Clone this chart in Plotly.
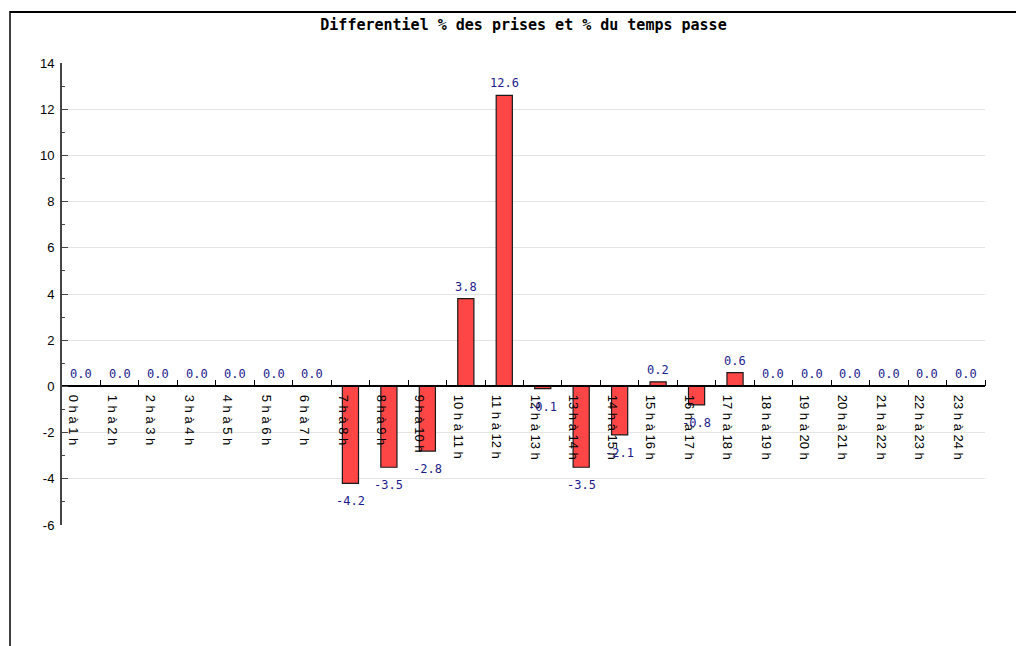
import plotly.graph_objects as go

categories = ["0 h à 1 h", "1 h à 2 h", "2 h à 3 h", "3 h à 4 h", "4 h à 5 h", "5 h à 6 h",
              "6 h à 7 h", "7 h à 8 h", "8 h à 9 h", "9 h à 10 h", "10 h à 11 h", "11 h à 12 h",
              "12 h à 13 h", "13 h à 14 h", "14 h à 15 h", "15 h à 16 h", "16 h à 17 h", "17 h à 18 h",
              "18 h à 19 h", "19 h à 20 h", "20 h à 21 h", "21 h à 22 h", "22 h à 23 h", "23 h à 24 h"]
values = [0.0, 0.0, 0.0, 0.0, 0.0, 0.0, 0.0, -4.2, -3.5, -2.8, 3.8, 12.6,
          -0.1, -3.5, -2.1, 0.2, -0.8, 0.6, 0.0, 0.0, 0.0, 0.0, 0.0, 0.0]
y_tickvals = [-6, -4, -2, 0, 2, 4, 6, 8, 10, 12, 14]
y_ticktext = ["-6", "-4", "-2", "0", "2", "4", "6", "8", "10", "12", "14"]
title_text = "Differentiel % des prises et % du temps passe"

idx = list(range(len(categories)))

# plot area in figure pixels (page has 8px body margin)
L, T, W, H = 54, 55, 923, 462

fig = go.Figure()
fig.add_trace(go.Bar(
    x=idx, y=values, width=0.42,
    marker=dict(color="#ff4646", line=dict(color="#1a1a1a", width=1.2)),
    hoverinfo="skip", showlegend=False,
))

annotations = []
for i, v in zip(idx, values):
    if v >= 0:
        annotations.append(dict(x=i, y=v, xref="x", yref="y", text=f"{v:.1f}", showarrow=False,
                                yanchor="bottom", yshift=3,
                                font=dict(family="DejaVu Sans Mono", size=12, color="#1c1c8c")))
    else:
        annotations.append(dict(x=i, y=v, xref="x", yref="y", text=f"{v:.1f}", showarrow=False,
                                yanchor="top", yshift=-9,
                                font=dict(family="DejaVu Sans Mono", size=12, color="#1c1c8c")))


def px_x(p):
    return (p - L) / W


def px_y(p):
    return (T + H - p) / H


fig.update_layout(
    width=1024, height=646,
    margin=dict(l=L, r=1024 - L - W, t=T, b=646 - T - H, pad=0),
    paper_bgcolor="white", plot_bgcolor="white",
    title=dict(text="<b>" + title_text + "</b>", x=0.5, xref="paper", y=1 - 17 / 646, yanchor="middle",
               font=dict(family="DejaVu Sans Mono", size=15, color="black")),
    annotations=annotations,
    xaxis=dict(
        type="linear", range=[-0.5, 23.5], anchor="free", position=0.3,
        showline=True, linecolor="black", linewidth=1.5,
        tickmode="array", tickvals=[i - 0.2 for i in idx], ticktext=categories,
        ticks="", tickangle=90, showgrid=False, zeroline=False,
        ticklabelstandoff=5,
        tickfont=dict(family="Liberation Sans", size=13, color="black"),
        minor=dict(tickmode="array", tickvals=[i + 0.5 for i in idx], ticks="inside",
                   ticklen=6, tickcolor="black", tickwidth=1, showgrid=False),
    ),
    yaxis=dict(
        range=[-6, 14], tickmode="array", tickvals=y_tickvals, ticktext=y_ticktext,
        ticks="inside", ticklen=6, tickcolor="#444444", tickwidth=1,
        showline=True, linecolor="#444444", linewidth=2,
        showgrid=True, gridcolor="#e4e4e4", gridwidth=1, zeroline=False,
        ticklabelstandoff=3,
        tickfont=dict(family="Liberation Sans", size=13, color="black"),
        minor=dict(tickmode="linear", tick0=-6, dtick=1, ticks="inside", ticklen=3,
                   tickcolor="#444444", showgrid=False),
    ),
    shapes=[
        dict(type="line", xref="paper", yref="paper", x0=px_x(2), x1=px_x(1030),
             y0=px_y(4), y1=px_y(4), line=dict(color="black", width=2)),
        dict(type="line", xref="paper", yref="paper", x0=px_x(2), x1=px_x(2),
             y0=px_y(3), y1=px_y(660), line=dict(color="black", width=1.5)),
    ],
)

fig.write_html("out.html")
